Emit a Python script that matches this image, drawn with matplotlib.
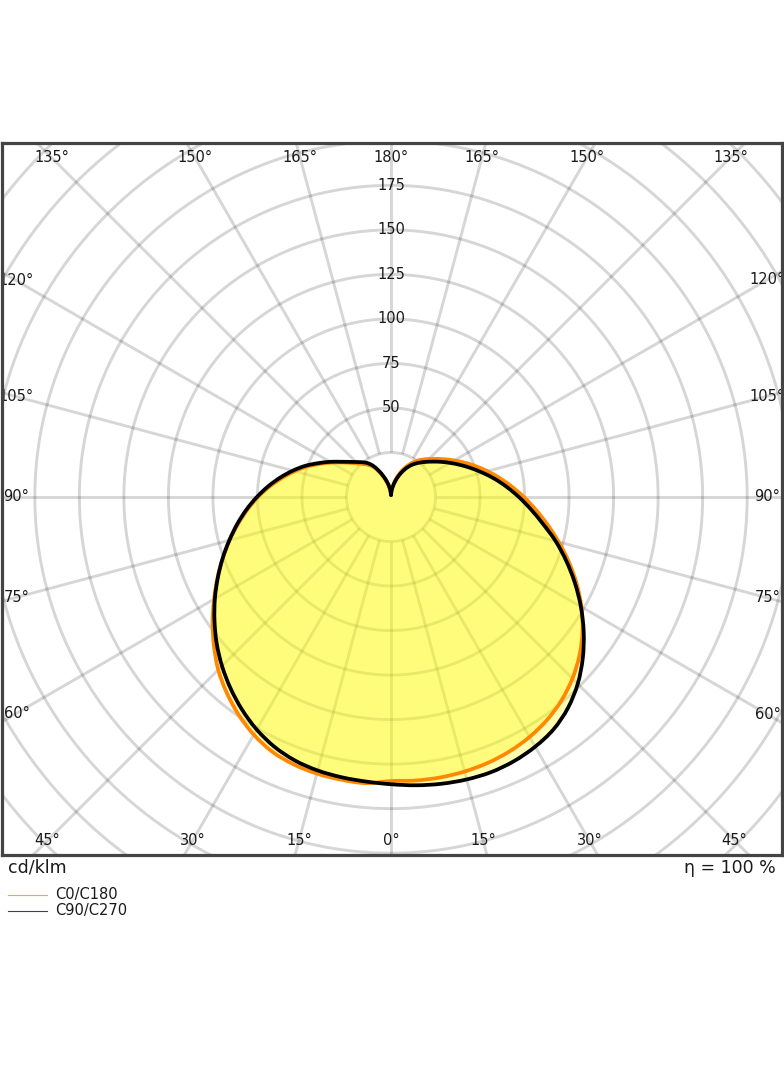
import numpy as np
import matplotlib
matplotlib.use("Agg")
import matplotlib.pyplot as plt
from matplotlib.lines import Line2D
from matplotlib.path import Path
from matplotlib.patches import PathPatch

# ---------------- data (cd/klm) ----------------
gamma = list(range(0, 181, 5))

# C0/C180 (orange): right half-plane and left half-plane
c0 = [159.5, 159.8, 159.9, 159.6, 158.9, 157.6, 155.6, 152.8, 149.0, 144.1,
      138.2, 131.3, 123.5, 115.0, 106.2, 97.5, 89.2, 81.6, 74.6, 68.0,
      61.8, 56.0, 50.6, 45.6, 41.0, 36.9, 33.3, 30.2, 27.4, 24.6,
      21.4, 17.8, 14.0, 10.3, 6.8, 3.7, 1.0]
c180 = [161.3, 161.3, 161.2, 160.8, 159.8, 157.8, 154.1, 149.2, 143.5, 137.2,
        129.8, 122.3, 114.7, 107.5, 100.5, 93.8, 87.2, 80.9, 74.7, 68.3,
        62.0, 56.0, 50.1, 44.0, 38.6, 33.8, 29.8, 26.7, 24.2, 22.0,
        19.4, 15.5, 11.8, 8.5, 5.6, 3.1, 1.0]

# C90/C270 (black): right half-plane and left half-plane
c90 = [161.3, 162.5, 163.5, 164.2, 164.4, 163.6, 161.9, 159.2, 154.6, 148.3,
       140.6, 132.1, 123.1, 113.9, 104.7, 95.7, 86.6, 78.8, 71.8, 65.2,
       59.0, 53.0, 47.6, 42.7, 38.3, 34.4, 30.9, 27.9, 25.2, 22.6,
       19.7, 16.3, 12.7, 9.2, 6.0, 3.3, 1.0]
c270 = [160.8, 160.4, 159.8, 159.0, 157.5, 154.8, 150.8, 145.8, 140.2, 134.2,
        127.8, 121.0, 114.2, 107.3, 100.6, 94.0, 87.7, 81.5, 75.3, 69.2,
        63.1, 57.1, 51.2, 45.0, 39.5, 34.5, 30.7, 27.8, 25.5, 23.3,
        20.3, 16.3, 12.4, 9.0, 6.0, 3.3, 1.0]

ring_values = [25, 50, 75, 100, 125, 150, 175, 200, 225, 250, 275, 300, 325]
ring_labels = [50, 75, 100, 125, 150, 175]
angle_labels = [0, 15, 30, 45, 60, 75, 90, 105, 120, 135, 150, 165, 180]
legend_names = ["C0/C180", "C90/C270"]
unit_text = "cd/klm"
eff_text = "η = 100 %"

# ---------------- figure ----------------
W, H = 784, 1066
fig = plt.figure(figsize=(W / 100, H / 100), dpi=100)
ax_left, ax_right, ax_top, ax_bot = 2, 782, 143, 855
ax = fig.add_axes([ax_left / W, 1 - ax_bot / H, (ax_right - ax_left) / W, (ax_bot - ax_top) / H])

cx_px, cy_px = 391, 497
scale = (ax_right - ax_left) / 438.0  # px per unit
xmin = -(cx_px - ax_left) / scale
xmax = (ax_right - cx_px) / scale
ymin = -(ax_bot - cy_px) / scale
ymax = (cy_px - ax_top) / scale
ax.set_xlim(xmin, xmax)
ax.set_ylim(ymin, ymax)
ax.set_xticks([])
ax.set_yticks([])
for s in ax.spines.values():
    s.set_color("#444444")
    s.set_linewidth(2.3)
    s.set_zorder(10)

grid_kw = dict(color="black", alpha=0.16, lw=2.1, zorder=1, solid_capstyle="butt")
t = np.linspace(0, 2 * np.pi, 721)
for rv in ring_values:
    ax.plot(rv * np.cos(t), rv * np.sin(t), **grid_kw)
for a in range(0, 360, 15):
    ar = np.radians(a)
    ax.plot([25 * np.sin(ar), 600 * np.sin(ar)], [-25 * np.cos(ar), -600 * np.cos(ar)], **grid_kw)


def curve_points(right, left):
    g = np.radians(np.array(gamma, dtype=float))
    r1 = np.array(right, dtype=float)
    r2 = np.array(left, dtype=float)
    x = np.concatenate([r1 * np.sin(g), -(r2 * np.sin(g))[::-1][1:-1]])
    y = np.concatenate([-r1 * np.cos(g), (-r2 * np.cos(g))[::-1][1:-1]])
    return np.column_stack([x, y])


def smooth_closed_path(P, sharp=()):
    """Closed Catmull-Rom curve through points P, drawn as cubic Bezier segments."""
    n = len(P)
    verts = [P[0]]
    codes = [Path.MOVETO]
    for i in range(n):
        p0, p1, p2, p3 = P[(i - 1) % n], P[i], P[(i + 1) % n], P[(i + 2) % n]
        t1 = (p2 - p0) / 6.0
        t2 = (p3 - p1) / 6.0
        if i in sharp:
            t1 = t1 * 0
        if (i + 1) % n in sharp:
            t2 = t2 * 0
        verts += [p1 + t1, p2 - t2, p2]
        codes += [Path.CURVE4] * 3
    verts.append(P[0])
    codes.append(Path.CLOSEPOLY)
    return Path(np.array(verts), codes)


cusp = len(gamma) - 1  # index of gamma = 180 (cusp point)
po = smooth_closed_path(curve_points(c0, c180), sharp=(cusp,))
pb = smooth_closed_path(curve_points(c90, c270), sharp=(cusp,))
fill_col = (1.0, 0.985, 0.0)
ax.add_patch(PathPatch(po, facecolor=fill_col, alpha=0.3, lw=0, zorder=2))
ax.add_patch(PathPatch(pb, facecolor=fill_col, alpha=0.3, lw=0, zorder=2))
ax.add_patch(PathPatch(po, facecolor="none", edgecolor="#ff8800", lw=2.7, zorder=3, joinstyle="round"))
ax.add_patch(PathPatch(pb, facecolor="none", edgecolor="black", lw=2.7, zorder=4, joinstyle="round"))

# radial labels
for rv in ring_labels:
    ax.text(0, rv, str(rv), ha="center", va="center", fontsize=10.5, color="#1a1a1a", zorder=6)

# angle labels placed along spokes, inset from the frame
inset = 14.5 / scale
for a in angle_labels:
    for side in ([1, -1] if a not in (0, 180) else [1]):
        ar = np.radians(a)
        dx, dy = side * np.sin(ar), -np.cos(ar)
        hits = []
        if dy < -1e-9:
            hits.append((ymin / dy, 'b', (ymin + inset) / dy))
        if dy > 1e-9:
            hits.append((ymax / dy, 't', (ymax - inset) / dy))
        if dx > 1e-9:
            hits.append((xmax / dx, 'r', (xmax - inset) / dx))
        if dx < -1e-9:
            hits.append((xmin / dx, 'l', (xmin + inset) / dx))
        tt = min(hits)[2]
        ax.text(tt * dx, tt * dy, f"{a}°", ha="center", va="center", fontsize=10.5,
                color="#1a1a1a", zorder=6, clip_on=True)

# texts below the chart
fig.text(8 / W, 1 - 868 / H, unit_text, ha="left", va="center", fontsize=12.5, color="#1a1a1a")
fig.text(776 / W, 1 - 868 / H, eff_text, ha="right", va="center", fontsize=12.5, color="#1a1a1a")

leg_cols = ["#ffa040", "#404050"]
for i, (name, col) in enumerate(zip(legend_names, leg_cols)):
    yy = 1 - (895 + 16 * i) / H
    fig.add_artist(Line2D([8 / W, 47 / W], [yy, yy], color=col, lw=0.8, transform=fig.transFigure))
    fig.text(55 / W, yy, name, ha="left", va="center", fontsize=10.5, color="#1a1a1a")

fig.savefig("out.png", dpi=100, facecolor="white")
